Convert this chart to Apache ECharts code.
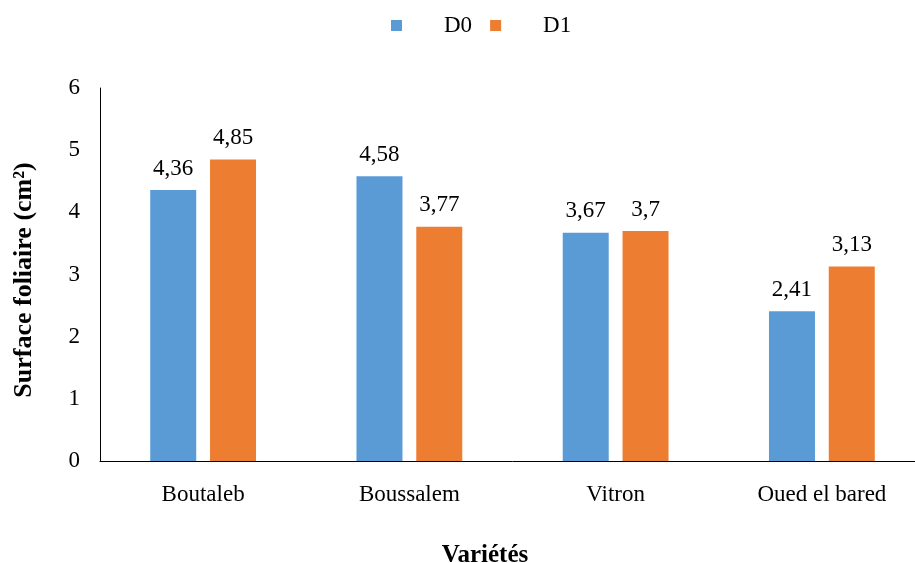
<!DOCTYPE html>
<html>
<head>
<meta charset="utf-8">
<script src="https://cdn.jsdelivr.net/npm/echarts@6/dist/echarts.min.js"></script>
<style>html,body{margin:0;padding:0;background:#fff;overflow:hidden;}#c{width:925px;height:563px;}</style>
</head>
<body>
<div id="c"></div>
<script>
const categories = ["Boutaleb", "Boussalem", "Vitron", "Oued el bared"];
const seriesNames = ["D0", "D1"];
const d0Values = [4.36, 4.58, 3.67, 2.41];
const d1Values = [4.85, 3.77, 3.7, 3.13];
const yTicks = [0, 1, 2, 3, 4, 5, 6];
const yTitle = "Surface foliaire (cm²)";
const xTitle = "Variétés";

const FONT = '"Liberation Serif", "Times New Roman", serif';
const chart = echarts.init(document.getElementById('c'), null, {renderer: 'canvas'});
const labelCfg = {
  show: true, position: 'top', distance: 10,
  fontFamily: FONT, fontSize: 23, color: '#000',
  formatter: p => String(p.value).replace('.', ',')
};
chart.setOption({
  animation: false,
  textStyle: {fontFamily: FONT},
  title: [
    {text: xTitle, left: 480, top: 538, textAlign: 'center',
     textStyle: {fontFamily: FONT, fontSize: 25, fontWeight: 'bold', color: '#000'}}
  ],
  graphic: [{
    type: 'text', x: 24, y: 280, rotation: Math.PI / 2,
    style: {text: yTitle, fontFamily: FONT, fontSize: 26, fontWeight: 'bold',
            fill: '#000', align: 'center', verticalAlign: 'middle'}
  }],
  legend: {
    data: seriesNames, top: 14, left: 391, padding: 0,
    itemWidth: 11, itemHeight: 11, itemGap: 18,
    icon: 'rect',
    textStyle: {fontFamily: FONT, fontSize: 23, color: '#000', padding: [0, 0, 0, 37]}
  },
  grid: {left: 100, top: 88, bottom: 102, right: 0},
  xAxis: {
    type: 'category', data: categories,
    axisLine: {lineStyle: {color: '#000', width: 1}},
    axisTick: {show: false},
    axisLabel: {fontFamily: FONT, fontSize: 23, color: '#000', margin: 22}
  },
  yAxis: {
    type: 'value', min: yTicks[0], max: yTicks[yTicks.length - 1], interval: 1,
    axisLine: {show: true, lineStyle: {color: '#000', width: 1}},
    axisTick: {show: false},
    splitLine: {show: false},
    axisLabel: {fontFamily: FONT, fontSize: 23, color: '#000', margin: 20}
  },
  series: [
    {name: seriesNames[0], type: 'bar', data: d0Values, barWidth: 46, barGap: '30%',
     itemStyle: {color: '#5B9BD5'}, label: labelCfg},
    {name: seriesNames[1], type: 'bar', data: d1Values, barWidth: 46, barGap: '30%',
     itemStyle: {color: '#ED7D31'}, label: labelCfg}
  ]
});
</script>
</body>
</html>
